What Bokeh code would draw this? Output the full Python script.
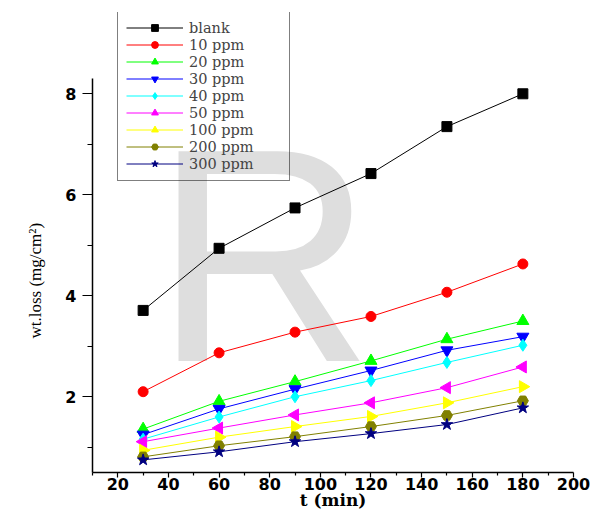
from bokeh.plotting import figure
from bokeh.models import FixedTicker, Legend, LegendItem, Label, Range1d
from bokeh.embed import file_html
from bokeh.resources import INLINE
import math

# ---- data ----
time_min = [30, 60, 90, 120, 150, 180]
series_labels = ["blank", "10 ppm", "20 ppm", "30 ppm", "40 ppm",
                 "50 ppm", "100 ppm", "200 ppm", "300 ppm"]
blank = [3.71, 4.94, 5.74, 6.42, 7.35, 8.00]
ppm10 = [2.10, 2.87, 3.28, 3.59, 4.07, 4.63]
ppm20 = [1.36, 1.91, 2.30, 2.71, 3.14, 3.50]
ppm30 = [1.25, 1.76, 2.15, 2.52, 2.92, 3.19]
ppm40 = [1.16, 1.60, 2.00, 2.32, 2.68, 3.02]
ppm50 = [1.11, 1.38, 1.64, 1.88, 2.18, 2.59]
ppm100 = [0.94, 1.20, 1.41, 1.61, 1.88, 2.20]
ppm200 = [0.81, 1.03, 1.21, 1.41, 1.63, 1.92]
ppm300 = [0.75, 0.91, 1.11, 1.27, 1.45, 1.78]
x_major_ticks = [20, 40, 60, 80, 100, 120, 140, 160, 180, 200]
x_minor_ticks = [10, 30, 50, 70, 90, 110, 130, 150, 170, 190]
y_major_ticks = [2, 4, 6, 8]
y_minor_ticks = [1, 3, 5, 7]
x_title = "t (min)"
y_title = "wt.loss (mg/cm²)"
watermark_text = "R"

series_values = [blank, ppm10, ppm20, ppm30, ppm40, ppm50, ppm100, ppm200, ppm300]
colors = ["#000000", "#ff0000", "#00ff00", "#0000ff", "#00ffff",
          "#ff00ff", "#ffff00", "#808000", "#000080"]
markers = ["square", "circle", "triangle", "inverted_triangle", "diamond",
           "triangle", "triangle", "hex", "star"]
angles = [0, 0, 0, 0, 0, math.pi / 2, -math.pi / 2, 0, 0]
sizes = [10, 10, 12, 12, 12, 12, 12, 11, 12]

p = figure(width=600, height=512, output_backend="svg", toolbar_location=None,
           x_range=Range1d(10, 200), y_range=Range1d(0.5, 9.61),
           min_border_left=92, min_border_right=27, min_border_top=12,
           min_border_bottom=40)
p.outline_line_color = None
p.xgrid.visible = False
p.ygrid.visible = False
p.background_fill_color = None

# grey watermark behind the data
wm = Label(x=61, y=217, x_units="screen", y_units="screen",
           text=watermark_text, text_font="Liberation Sans",
           text_font_size="305px", text_color="#dedede",
           text_baseline="alphabetic", text_align="left", level="underlay")
p.add_layout(wm)

items = []
for lab, vals, col, mk, ang, sz in zip(series_labels, series_values, colors,
                                       markers, angles, sizes):
    r1 = p.line(time_min, vals, line_color=col, line_width=1)
    r2 = p.scatter(time_min, vals, marker=mk, angle=ang, size=sz,
                   fill_color=col, line_color=col)
    items.append(LegendItem(label=lab, renderers=[r1, r2]))

legend = Legend(items=items, location=(25, 291), padding=8, spacing=0,
                margin=0, glyph_width=57, glyph_height=17, label_height=17,
                label_width=92, label_standoff=6,
                border_line_color="black", border_line_width=1,
                background_fill_alpha=0,
                label_text_font="DejaVu Serif", label_text_font_size="14.5px")
p.add_layout(legend)

xa = p.xaxis[0]
xa.ticker = FixedTicker(ticks=x_major_ticks, minor_ticks=x_minor_ticks)
xa.axis_label = x_title
xa.axis_label_text_font = "DejaVu Serif"
xa.axis_label_text_font_style = "bold"
xa.axis_label_text_font_size = "17px"
xa.axis_label_standoff = -3
xa.major_label_text_font = "DejaVu Sans"
xa.major_label_text_font_style = "bold"
xa.major_label_text_font_size = "16px"
xa.major_label_standoff = 0
xa.major_tick_in = 0
xa.major_tick_out = 5
xa.minor_tick_in = 0
xa.minor_tick_out = 3

ya = p.yaxis[0]
ya.bounds = (0.5, 8.3)
ya.ticker = FixedTicker(ticks=y_major_ticks, minor_ticks=y_minor_ticks)
# trailing no-break spaces move the centred title down to where it sits
ya.axis_label = y_title + "\u00a0" * 18
ya.axis_label_text_font = "Liberation Serif"
ya.axis_label_text_font_style = "normal"
ya.axis_label_text_font_size = "17px"
ya.axis_label_standoff = 17
ya.major_label_text_font = "DejaVu Sans"
ya.major_label_text_font_style = "bold"
ya.major_label_text_font_size = "16px"
ya.major_label_standoff = 6
ya.major_tick_in = 0
ya.major_tick_out = 10
ya.minor_tick_in = 0
ya.minor_tick_out = 5

for ax in (xa, ya):
    ax.axis_line_width = 1.5
    ax.major_tick_line_width = 1.2
    ax.minor_tick_line_width = 1.2
    ax.major_label_text_color = "black"
    ax.axis_label_text_color = "black"

open("out.html", "w").write(file_html(p, INLINE))
